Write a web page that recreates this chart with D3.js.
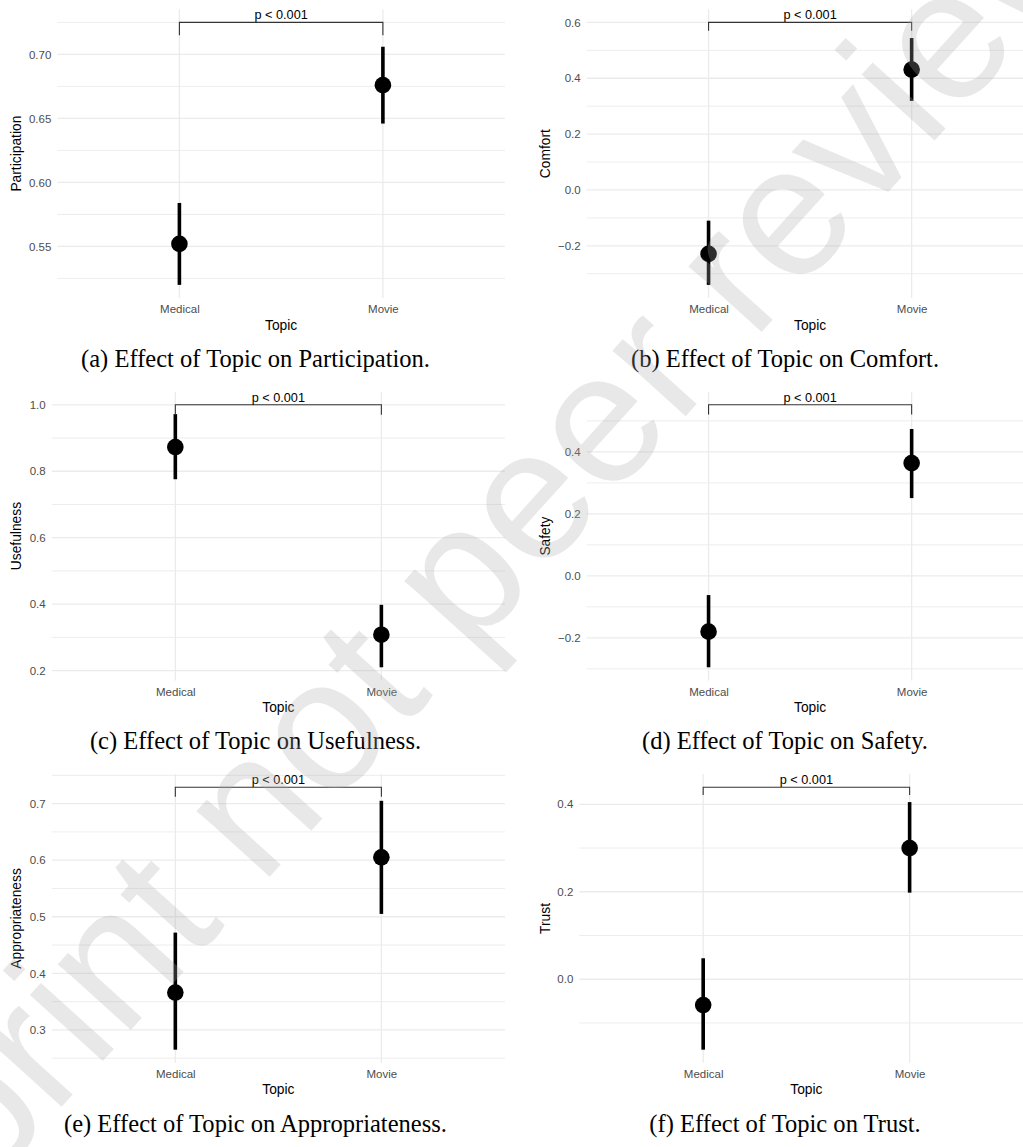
<!DOCTYPE html>
<html>
<head>
<meta charset="utf-8">
<script src="https://cdn.jsdelivr.net/npm/d3@7"></script>
<style>
  body { margin: 0; background: #fff; }
  svg { display: block; }
</style>
</head>
<body>
<div id="chart-area"></div>
<script>
// values
const topics = ["Medical", "Movie"];
const outcomes = ["Participation", "Comfort", "Usefulness", "Safety", "Appropriateness", "Trust"];
const captions = [
    "(a) Effect of Topic on Participation.",
    "(b) Effect of Topic on Comfort.",
    "(c) Effect of Topic on Usefulness.",
    "(d) Effect of Topic on Safety.",
    "(e) Effect of Topic on Appropriateness.",
    "(f) Effect of Topic on Trust."
];
const medicalMean = [0.552, -0.229, 0.873, -0.180, 0.366, -0.059];
const medicalLow  = [0.520, -0.340, 0.776, -0.295, 0.265, -0.161];
const medicalHigh = [0.584, -0.110, 0.972, -0.062, 0.472, 0.048];
const movieMean = [0.676, 0.431, 0.308, 0.364, 0.605, 0.300];
const movieLow  = [0.646, 0.319, 0.210, 0.251, 0.505, 0.198];
const movieHigh = [0.706, 0.544, 0.398, 0.474, 0.705, 0.405];
const pLabels = ["p < 0.001", "p < 0.001", "p < 0.001", "p < 0.001", "p < 0.001", "p < 0.001"];
const bracketY = [0.725, 0.600, 1.000, 0.552, 0.729, 0.439];
const bracketTip = [0.010, 0.030, 0.030, 0.031, 0.017, 0.018];
const yTicks = [
    [0.55, 0.60, 0.65, 0.70],
    [-0.2, 0.0, 0.2, 0.4, 0.6],
    [0.2, 0.4, 0.6, 0.8, 1.0],
    [-0.2, 0.0, 0.2, 0.4],
    [0.3, 0.4, 0.5, 0.6, 0.7],
    [0.0, 0.2, 0.4]
];
const tickDigits = [2, 1, 1, 1, 1, 1];

// layout
const W = 1023, H = 1147;
const COL_X = [0, 528.5];
const ROW_Y = 382.4;
const PANEL_TOP = 9.3, PANEL_H = 288.7, PANEL_RIGHT = 505;
const PANEL_LEFT = [57.3, 58.2, 51.7, 58.2, 51.7, 50.8];
const SANS = "'Liberation Sans', Arial, sans-serif";
const GRID = "#ebebeb";

const svg = d3.select("#chart-area").append("svg")
    .attr("width", W)
    .attr("height", H);

const capSize = 16.6;

outcomes.forEach((name, i) => {
    const col = i % 2, row = Math.floor(i / 2);
    const g = svg.append("g")
        .attr("transform", `translate(${COL_X[col]}, ${row * ROW_Y})`);

    const top = PANEL_TOP, bottom = PANEL_TOP + PANEL_H;
    const left = PANEL_LEFT[i], right = PANEL_RIGHT;

    const lows = [medicalLow[i], movieLow[i]];
    const lo = d3.min(lows), hi = Math.max(bracketY[i], medicalHigh[i], movieHigh[i]);
    const pad = (hi - lo) * 0.05;

    const x = d3.scalePoint()
        .domain(topics)
        .range([left, right])
        .padding(0.6);

    const y = d3.scaleLinear()
        .domain([lo - pad, hi + pad])
        .range([bottom, top]);

    // minor gridlines halfway between breaks
    const ticks = yTicks[i];
    const step = ticks[1] - ticks[0];
    const minor = [ticks[0] - step / 2].concat(ticks.map(t => t + step / 2))
        .filter(v => v >= y.domain()[0] && v <= y.domain()[1]);

    g.selectAll(".minor").data(minor).enter().append("line")
        .attr("x1", left).attr("x2", right)
        .attr("y1", d => y(d)).attr("y2", d => y(d))
        .attr("stroke", GRID).attr("stroke-width", 0.9);

    g.selectAll(".major").data(ticks).enter().append("line")
        .attr("x1", left).attr("x2", right)
        .attr("y1", d => y(d)).attr("y2", d => y(d))
        .attr("stroke", GRID).attr("stroke-width", 1.3);

    g.selectAll(".vgrid").data(topics).enter().append("line")
        .attr("x1", d => x(d)).attr("x2", d => x(d))
        .attr("y1", top).attr("y2", bottom)
        .attr("stroke", GRID).attr("stroke-width", 1.3);

    // y axis (labels only, theme_minimal)
    const yAxisCall = d3.axisLeft(y)
        .tickValues(ticks)
        .tickSize(0)
        .tickPadding(6)
        .tickFormat(d3.format(`.${tickDigits[i]}f`));
    const yAxis = g.append("g")
        .attr("transform", `translate(${left}, 0)`)
        .call(yAxisCall);
    yAxis.select(".domain").remove();
    yAxis.selectAll("text")
        .attr("font-family", SANS)
        .attr("font-size", 11.5)
        .attr("fill", "#4d4d4d");

    // x axis
    const xAxisCall = d3.axisBottom(x).tickSize(0).tickPadding(7);
    const xAxis = g.append("g")
        .attr("transform", `translate(0, ${bottom})`)
        .call(xAxisCall);
    xAxis.select(".domain").remove();
    xAxis.selectAll("text")
        .attr("font-family", SANS)
        .attr("font-size", 11.5)
        .attr("fill", "#4d4d4d");

    // axis titles
    g.append("text")
        .attr("x", (left + right) / 2)
        .attr("y", bottom + 31.5)
        .attr("text-anchor", "middle")
        .attr("font-family", SANS)
        .attr("font-size", 13.8)
        .attr("fill", "#000")
        .text("Topic");

    g.append("text")
        .attr("transform", `translate(21, ${(top + bottom) / 2}) rotate(-90)`)
        .attr("text-anchor", "middle")
        .attr("font-family", SANS)
        .attr("font-size", 13.8)
        .attr("fill", "#000")
        .text(name);

    // error bars and points
    const rows = [
        { topic: topics[0], mean: medicalMean[i], low: medicalLow[i], high: medicalHigh[i] },
        { topic: topics[1], mean: movieMean[i], low: movieLow[i], high: movieHigh[i] }
    ];

    g.selectAll(".bar").data(rows).enter().append("line")
        .attr("x1", d => x(d.topic)).attr("x2", d => x(d.topic))
        .attr("y1", d => y(d.low)).attr("y2", d => y(d.high))
        .attr("stroke", "#000").attr("stroke-width", 3.6);

    g.selectAll(".pt").data(rows).enter().append("circle")
        .attr("cx", d => x(d.topic))
        .attr("cy", d => y(d.mean))
        .attr("r", 8.3)
        .attr("fill", "#000");

    // significance bracket
    const bx1 = x(topics[0]), bx2 = x(topics[1]);
    const by = y(bracketY[i]), bt = y(bracketY[i] - bracketTip[i]);
    g.append("path")
        .attr("d", `M${bx1},${bt}V${by}H${bx2}V${bt}`)
        .attr("fill", "none")
        .attr("stroke", "#333")
        .attr("stroke-width", 1.1);
    g.append("text")
        .attr("x", (bx1 + bx2) / 2)
        .attr("y", by - 3)
        .attr("text-anchor", "middle")
        .attr("font-family", SANS)
        .attr("font-size", 12.7)
        .attr("fill", "#000")
        .text(pLabels[i]);

    // caption (g is already shifted to its column)
    g.append("text")
        .attr("class", "caption")
        .attr("x", 255.5 + col)
        .attr("y", 367)
        .attr("text-anchor", "middle")
        .attr("font-family", "'Liberation Serif', 'Times New Roman', serif")
        .attr("font-size", capSize)
        .attr("fill", "#000")
        .text(captions[i]);
});

// scale caption font so caption (a) is as wide as in the figure
const capNodes = svg.selectAll(".caption").nodes();
const k = 349 / capNodes[0].getComputedTextLength();
svg.selectAll(".caption").attr("font-size", capSize * k);

// watermark laid over the figure
svg.append("text")
    .attr("transform", "translate(485, 566) rotate(-47.9)")
    .attr("text-anchor", "middle")
    .attr("dy", "0.26em")
    .attr("font-family", SANS)
    .attr("font-size", 186)
    .attr("fill", "#aaa")
    .attr("fill-opacity", 0.27)
    .text("Preprint not peer reviewed");
</script>
</body>
</html>
